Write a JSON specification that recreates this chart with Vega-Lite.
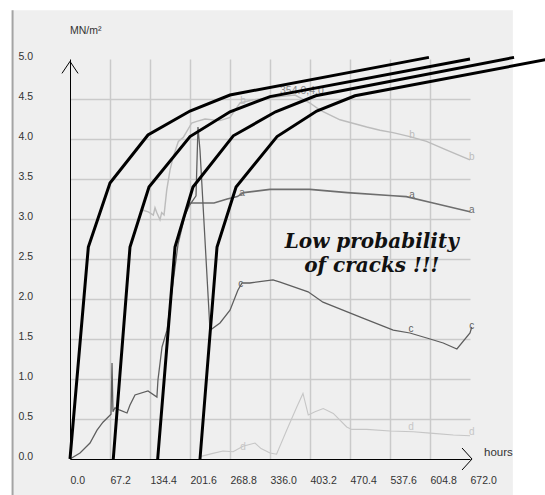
{
  "$schema": "https://vega.github.io/schema/vega-lite/v6.json",
  "width": 400,
  "height": 400,
  "autosize": {"type": "none"},
  "padding": {"left": 70, "top": 59, "right": 75, "bottom": 36},
  "background": "#efefef",
  "config": {
    "view": {"stroke": null},
    "font": "Liberation Sans",
    "axis": {"titleFontSize": 0}
  },
  "datasets": {
    "sensors": [
      {"series": "a", "h": 198.2, "v": 3.15},
      {"series": "a", "h": 201.6, "v": 3.2},
      {"series": "a", "h": 218, "v": 3.2},
      {"series": "a", "h": 242, "v": 3.2},
      {"series": "a", "h": 264, "v": 3.25},
      {"series": "a", "h": 281, "v": 3.28},
      {"series": "a", "h": 292, "v": 3.33},
      {"series": "a", "h": 336, "v": 3.37},
      {"series": "a", "h": 403, "v": 3.37},
      {"series": "a", "h": 466, "v": 3.33},
      {"series": "a", "h": 543, "v": 3.29},
      {"series": "a", "h": 565, "v": 3.28},
      {"series": "a", "h": 610, "v": 3.2},
      {"series": "a", "h": 672, "v": 3.09},

      {"series": "b", "h": 122.6, "v": 3.11},
      {"series": "b", "h": 131.5, "v": 3.09},
      {"series": "b", "h": 140, "v": 3.05},
      {"series": "b", "h": 142.8, "v": 3.14},
      {"series": "b", "h": 145.7, "v": 3.08},
      {"series": "b", "h": 151.2, "v": 2.99},
      {"series": "b", "h": 154, "v": 3.08},
      {"series": "b", "h": 158, "v": 3.05},
      {"series": "b", "h": 162.5, "v": 3.36},
      {"series": "b", "h": 168, "v": 3.61},
      {"series": "b", "h": 173.5, "v": 3.78},
      {"series": "b", "h": 182, "v": 3.97},
      {"series": "b", "h": 190.3, "v": 4.02},
      {"series": "b", "h": 204.5, "v": 4.2},
      {"series": "b", "h": 212.9, "v": 4.22},
      {"series": "b", "h": 226.8, "v": 4.25},
      {"series": "b", "h": 252, "v": 4.23},
      {"series": "b", "h": 268.8, "v": 4.27},
      {"series": "b", "h": 285.6, "v": 4.45},
      {"series": "b", "h": 307.4, "v": 4.49},
      {"series": "b", "h": 352.8, "v": 4.53},
      {"series": "b", "h": 378, "v": 4.55},
      {"series": "b", "h": 403.2, "v": 4.45},
      {"series": "b", "h": 420, "v": 4.36},
      {"series": "b", "h": 453.6, "v": 4.24},
      {"series": "b", "h": 498.5, "v": 4.15},
      {"series": "b", "h": 520.8, "v": 4.11},
      {"series": "b", "h": 542.6, "v": 4.08},
      {"series": "b", "h": 571, "v": 4.03},
      {"series": "b", "h": 599, "v": 3.97},
      {"series": "b", "h": 633, "v": 3.86},
      {"series": "b", "h": 672, "v": 3.74},

      {"series": "c", "h": 0, "v": 0},
      {"series": "c", "h": 16.8, "v": 0.075},
      {"series": "c", "h": 33.6, "v": 0.2},
      {"series": "c", "h": 45.4, "v": 0.36},
      {"series": "c", "h": 55.4, "v": 0.46},
      {"series": "c", "h": 68.9, "v": 0.56},
      {"series": "c", "h": 70.6, "v": 1.2},
      {"series": "c", "h": 72.2, "v": 0.59},
      {"series": "c", "h": 75.6, "v": 0.64},
      {"series": "c", "h": 84, "v": 0.61},
      {"series": "c", "h": 95.8, "v": 0.575},
      {"series": "c", "h": 100.8, "v": 0.675},
      {"series": "c", "h": 109.2, "v": 0.8},
      {"series": "c", "h": 131, "v": 0.85},
      {"series": "c", "h": 146, "v": 0.775},
      {"series": "c", "h": 147.8, "v": 0.99},
      {"series": "c", "h": 154.6, "v": 1.4},
      {"series": "c", "h": 163, "v": 1.61},
      {"series": "c", "h": 171.4, "v": 2.11},
      {"series": "c", "h": 181.4, "v": 2.68},
      {"series": "c", "h": 193.2, "v": 3.05},
      {"series": "c", "h": 201.6, "v": 3.18},
      {"series": "c", "h": 211.7, "v": 3.29},
      {"series": "c", "h": 215, "v": 4.15},
      {"series": "c", "h": 218.4, "v": 3.86},
      {"series": "c", "h": 235.2, "v": 1.61},
      {"series": "c", "h": 252, "v": 1.7},
      {"series": "c", "h": 268.8, "v": 1.86},
      {"series": "c", "h": 282, "v": 2.11},
      {"series": "c", "h": 289, "v": 2.2},
      {"series": "c", "h": 302, "v": 2.2},
      {"series": "c", "h": 341, "v": 2.24},
      {"series": "c", "h": 353, "v": 2.21},
      {"series": "c", "h": 400, "v": 2.09},
      {"series": "c", "h": 425, "v": 1.96},
      {"series": "c", "h": 492, "v": 1.76},
      {"series": "c", "h": 543, "v": 1.61},
      {"series": "c", "h": 571, "v": 1.575},
      {"series": "c", "h": 605, "v": 1.5},
      {"series": "c", "h": 627, "v": 1.45},
      {"series": "c", "h": 650, "v": 1.375},
      {"series": "c", "h": 672, "v": 1.575},
      {"series": "c", "h": 675, "v": 1.65},

      {"series": "d", "h": 218.4, "v": 0.03},
      {"series": "d", "h": 240, "v": 0.07},
      {"series": "d", "h": 257, "v": 0.1},
      {"series": "d", "h": 274, "v": 0.09},
      {"series": "d", "h": 290.6, "v": 0.16},
      {"series": "d", "h": 310.8, "v": 0.2},
      {"series": "d", "h": 321, "v": 0.13},
      {"series": "d", "h": 336, "v": 0.075},
      {"series": "d", "h": 347, "v": 0.06},
      {"series": "d", "h": 364, "v": 0.36},
      {"series": "d", "h": 381, "v": 0.65},
      {"series": "d", "h": 391.4, "v": 0.82},
      {"series": "d", "h": 400.3, "v": 0.55},
      {"series": "d", "h": 411.6, "v": 0.59},
      {"series": "d", "h": 425.5, "v": 0.63},
      {"series": "d", "h": 442.3, "v": 0.57},
      {"series": "d", "h": 464.9, "v": 0.4},
      {"series": "d", "h": 473.3, "v": 0.37},
      {"series": "d", "h": 498.5, "v": 0.37},
      {"series": "d", "h": 537.6, "v": 0.35},
      {"series": "d", "h": 576.7, "v": 0.34},
      {"series": "d", "h": 610.3, "v": 0.32},
      {"series": "d", "h": 644, "v": 0.3},
      {"series": "d", "h": 672, "v": 0.29}
    ],
    "model": [
      {"series": "k1", "h": 0, "v": 0},
      {"series": "k1", "h": 30.8, "v": 2.65},
      {"series": "k1", "h": 67.2, "v": 3.45},
      {"series": "k1", "h": 131, "v": 4.05},
      {"series": "k1", "h": 201.6, "v": 4.35},
      {"series": "k1", "h": 268.8, "v": 4.55},
      {"series": "k1", "h": 603, "v": 5.02},
      {"series": "k2", "h": 72.7, "v": 0},
      {"series": "k2", "h": 100.8, "v": 2.65},
      {"series": "k2", "h": 132.7, "v": 3.4},
      {"series": "k2", "h": 201.6, "v": 4.03},
      {"series": "k2", "h": 268.8, "v": 4.34},
      {"series": "k2", "h": 336, "v": 4.53},
      {"series": "k2", "h": 672, "v": 5.0},
      {"series": "k3", "h": 147.3, "v": 0},
      {"series": "k3", "h": 176.4, "v": 2.65},
      {"series": "k3", "h": 206.6, "v": 3.4},
      {"series": "k3", "h": 274.3, "v": 4.04},
      {"series": "k3", "h": 345.4, "v": 4.34},
      {"series": "k3", "h": 412.8, "v": 4.54},
      {"series": "k3", "h": 746, "v": 5.02},
      {"series": "k4", "h": 218.4, "v": 0},
      {"series": "k4", "h": 247, "v": 2.65},
      {"series": "k4", "h": 279, "v": 3.4},
      {"series": "k4", "h": 347.8, "v": 4.03},
      {"series": "k4", "h": 414.5, "v": 4.35},
      {"series": "k4", "h": 478.8, "v": 4.54},
      {"series": "k4", "h": 819, "v": 5.02}
    ],
    "letters": [
      {"series": "a", "h": 289, "v": 3.33},
      {"series": "a", "h": 574.6, "v": 3.3},
      {"series": "a", "h": 675, "v": 3.11},
      {"series": "b", "h": 290.6, "v": 4.48},
      {"series": "b", "h": 574.6, "v": 4.05},
      {"series": "b", "h": 675, "v": 3.78},
      {"series": "c", "h": 287, "v": 2.19},
      {"series": "c", "h": 573, "v": 1.625},
      {"series": "c", "h": 675, "v": 1.66},
      {"series": "d", "h": 290.6, "v": 0.15},
      {"series": "d", "h": 573, "v": 0.4},
      {"series": "d", "h": 675, "v": 0.34}
    ],
    "one": [{}]
  },
  "layer": [
    {
      "data": {"name": "one"},
      "mark": {"type": "rect", "fill": "white"},
      "encoding": {
        "x": {"datum": 744, "type": "quantitative", "scale": {"domain": [0, 672], "nice": false, "zero": false}},
        "x2": {"datum": 1000},
        "y": {"datum": -2, "type": "quantitative", "scale": {"domain": [0, 5], "nice": false, "zero": false}},
        "y2": {"datum": 8}
      }
    },
    {
      "data": {"name": "one"},
      "mark": {"type": "rect", "fill": "white"},
      "encoding": {
        "x": {"datum": -200, "type": "quantitative", "scale": {"domain": [0, 672], "nice": false, "zero": false}},
        "x2": {"datum": 1000},
        "y": {"datum": 5.61, "type": "quantitative", "scale": {"domain": [0, 5], "nice": false, "zero": false}},
        "y2": {"datum": 8}
      }
    },
    {
      "data": {"name": "one"},
      "mark": {"type": "rect", "fill": "white"},
      "encoding": {
        "x": {"datum": -200, "type": "quantitative", "scale": {"domain": [0, 672], "nice": false, "zero": false}},
        "x2": {"datum": -97.4},
        "y": {"datum": -2, "type": "quantitative", "scale": {"domain": [0, 5], "nice": false, "zero": false}},
        "y2": {"datum": 8}
      }
    },
    {
      "data": {"name": "one"},
      "mark": {"type": "rule", "stroke": "#a4a4a4", "strokeWidth": 2},
      "encoding": {
        "x": {"datum": -96.5, "type": "quantitative", "scale": {"domain": [0, 672], "nice": false, "zero": false}},
        "y": {"datum": -2, "type": "quantitative", "scale": {"domain": [0, 5], "nice": false, "zero": false}},
        "y2": {"datum": 5.61}
      }
    },
    {
      "data": {"name": "sensors"},
      "mark": {"type": "line", "interpolate": "linear"},
      "encoding": {
        "x": {
          "field": "h", "type": "quantitative",
          "scale": {"domain": [0, 672], "nice": false, "zero": false},
          "axis": {
            "title": null,
            "values": [0, 67.2, 134.4, 201.6, 268.8, 336, 403.2, 470.4, 537.6, 604.8, 672],
            "tickCount": 30,
            "format": ".1f",
            "labelAlign": "left",
            "labelBaseline": "middle",
            "labelPadding": 21,
            "ticks": false,
            "tickSize": 0,
            "labelFont": "Liberation Sans",
            "labelFontSize": 10.5,
            "labelColor": "#333333",
            "domainColor": "black",
            "domainWidth": 1,
            "grid": true,
            "gridWidth": 1.5,
            "gridColor": {"condition": {"test": "datum.value <= 0 || datum.value >= 672", "value": "transparent"}, "value": "#cacaca"},
            "labelOverlap": false,
            "labelFlush": false
          }
        },
        "y": {
          "field": "v", "type": "quantitative",
          "scale": {"domain": [0, 5], "nice": false, "zero": false},
          "axis": {
            "title": null,
            "values": [0, 0.5, 1, 1.5, 2, 2.5, 3, 3.5, 4, 4.5, 5],
            "tickCount": 30,
            "format": ".1f",
            "labelAlign": "left",
            "labelBaseline": "alphabetic",
            "labelPadding": 52,
            "ticks": false,
            "tickSize": 0,
            "labelFont": "Liberation Sans",
            "labelFontSize": 10.5,
            "labelColor": "#333333",
            "domainColor": "black",
            "domainWidth": 1,
            "grid": true,
            "gridWidth": 1.5,
            "gridColor": {"condition": {"test": "datum.value <= 0 || datum.value >= 5", "value": "transparent"}, "value": "#cacaca"},
            "labelOverlap": false,
            "labelFlush": false
          }
        },
        "color": {
          "field": "series", "type": "nominal",
          "scale": {"domain": ["a", "b", "c", "d"], "range": ["#6e6e6e", "#bcbcbc", "#5e5e5e", "#c6c6c6"]},
          "legend": null
        },
        "strokeWidth": {
          "field": "series", "type": "nominal",
          "scale": {"domain": ["a", "b", "c", "d"], "range": [1.6, 1.1, 1.4, 1.1]},
          "legend": null
        }
      }
    },
    {
      "data": {"name": "letters"},
      "mark": {"type": "text", "fontSize": 10, "font": "Liberation Sans", "align": "center", "baseline": "middle"},
      "encoding": {
        "x": {"field": "h", "type": "quantitative", "scale": {"domain": [0, 672], "nice": false, "zero": false}},
        "y": {"field": "v", "type": "quantitative", "scale": {"domain": [0, 5], "nice": false, "zero": false}},
        "text": {"field": "series"},
        "color": {
          "field": "series", "type": "nominal",
          "scale": {"domain": ["a", "b", "c", "d"], "range": ["#6e6e6e", "#bcbcbc", "#5e5e5e", "#c6c6c6"]},
          "legend": null
        }
      }
    },
    {
      "data": {"name": "one"},
      "mark": {"type": "text", "fontSize": 10.5, "font": "Liberation Sans", "align": "left", "baseline": "middle", "color": "#8a8a8a", "text": "354.0,4.0"},
      "encoding": {
        "x": {"datum": 352.8, "type": "quantitative", "scale": {"domain": [0, 672], "nice": false, "zero": false}},
        "y": {"datum": 4.6, "type": "quantitative", "scale": {"domain": [0, 5], "nice": false, "zero": false}}
      }
    },
    {
      "data": {"name": "model"},
      "mark": {"type": "line", "color": "black", "strokeWidth": 3, "interpolate": "linear"},
      "encoding": {
        "x": {"field": "h", "type": "quantitative", "scale": {"domain": [0, 672], "nice": false, "zero": false}},
        "y": {"field": "v", "type": "quantitative", "scale": {"domain": [0, 5], "nice": false, "zero": false}},
        "detail": {"field": "series", "type": "nominal"}
      }
    },
    {
      "data": {"name": "one"},
      "mark": {"type": "point", "shape": "M-0.67,1L0,0L0.67,1", "size": 576, "filled": false, "color": "black", "strokeWidth": 1, "opacity": 1},
      "encoding": {
        "x": {"datum": 0, "type": "quantitative", "scale": {"domain": [0, 672], "nice": false, "zero": false}},
        "y": {"datum": 4.97, "type": "quantitative", "scale": {"domain": [0, 5], "nice": false, "zero": false}}
      }
    },
    {
      "data": {"name": "one"},
      "mark": {"type": "point", "shape": "M-1,-1.1L0,0L-1,1.1", "size": 400, "filled": false, "color": "black", "strokeWidth": 1, "opacity": 1},
      "encoding": {
        "x": {"datum": 675.4, "type": "quantitative", "scale": {"domain": [0, 672], "nice": false, "zero": false}},
        "y": {"datum": 0, "type": "quantitative", "scale": {"domain": [0, 5], "nice": false, "zero": false}}
      }
    },
    {
      "data": {"name": "one"},
      "mark": {"type": "text", "fontSize": 10.5, "font": "Liberation Sans", "align": "left", "baseline": "middle", "color": "#333333", "text": "MN/m²"},
      "encoding": {
        "x": {"datum": 0, "type": "quantitative", "scale": {"domain": [0, 672], "nice": false, "zero": false}},
        "y": {"datum": 5.35, "type": "quantitative", "scale": {"domain": [0, 5], "nice": false, "zero": false}}
      }
    },
    {
      "data": {"name": "one"},
      "mark": {"type": "text", "fontSize": 11.5, "font": "Liberation Sans", "align": "left", "baseline": "middle", "color": "#333333", "text": "hours"},
      "encoding": {
        "x": {"datum": 695.6, "type": "quantitative", "scale": {"domain": [0, 672], "nice": false, "zero": false}},
        "y": {"datum": 0.075, "type": "quantitative", "scale": {"domain": [0, 5], "nice": false, "zero": false}}
      }
    },
    {
      "data": {"name": "one"},
      "mark": {"type": "text", "fontSize": 20, "font": "DejaVu Serif", "fontStyle": "italic", "fontWeight": "bold", "align": "center", "baseline": "alphabetic", "lineHeight": 24, "color": "#111111", "text": ["Low probability", "of cracks !!!"]},
      "encoding": {
        "x": {"datum": 507, "type": "quantitative", "scale": {"domain": [0, 672], "nice": false, "zero": false}},
        "y": {"datum": 2.64, "type": "quantitative", "scale": {"domain": [0, 5], "nice": false, "zero": false}}
      }
    }
  ]
}
